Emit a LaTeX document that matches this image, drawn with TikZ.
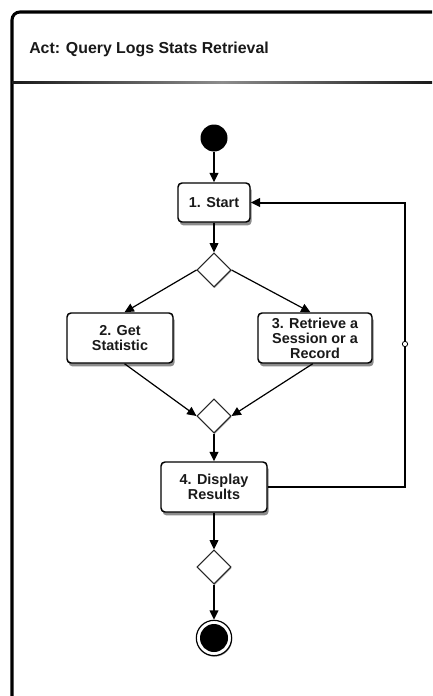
\documentclass[tikz,border=0pt]{standalone}
\usepackage{fontspec}
\setmainfont{Liberation Sans}
\usetikzlibrary{shapes.geometric,arrows.meta,shadows}

\tikzset{
  action/.style={draw=black, line width=1.1pt, rounded corners=3pt, fill=white,
    align=center, inner sep=2pt, text=black!90,
    font=\fontsize{10.8}{11.25}\selectfont\bfseries,
    drop shadow={shadow xshift=1.2pt, shadow yshift=-2.6pt, fill=black!45, opacity=1}},
  choice/.style={diamond, draw=black!85, line width=0.8pt, fill=white, inner sep=0pt,
    minimum width=25.5pt, minimum height=25.5pt,
    drop shadow={shadow xshift=0.4pt, shadow yshift=-0.9pt, fill=black!40, opacity=1}},
  startdot/.style={circle, fill=black, inner sep=0pt, minimum size=20.25pt},
  enddot/.style={circle, draw=black, line width=0.9pt, fill=white, inner sep=0pt,
    minimum size=26.5pt,
    drop shadow={shadow xshift=0.4pt, shadow yshift=-0.8pt, fill=black!40, opacity=1}},
  flow/.style={line width=1.1pt, -{Triangle[length=7pt,width=6.5pt]}},
  slant/.style={line width=0.9pt, -{Triangle[length=7pt,width=6.5pt]}},
  back/.style={line width=1.5pt, -{Triangle[length=7pt,width=6.5pt]}},
  knot/.style={circle, draw=black, line width=0.6pt, fill=white, inner sep=0pt, minimum size=4pt},
}

\begin{document}
\begin{tikzpicture}[x=0.75pt,y=-0.75pt]
  \useasboundingbox (0,0) rectangle (432,696);
  \clip (0,0) rectangle (432,696);
  \fill[white] (0,0) rectangle (432,696);

  % activity frame and its header
  \draw[line width=2.3pt, rounded corners=6pt] (12,720) -- (12,12) -- (460,12);
  \shade[left color=black!90, right color=black!45] (12,81) rectangle (222,83.2);
  \shade[left color=black!45, right color=black!90] (222,81) rectangle (432,83.2);
  \node[anchor=west, inner sep=0pt, text=black!90,
        font=\fontsize{11.9}{13}\selectfont\bfseries] (title) at (29,49)
        {Act: Query Logs Stats Retrieval};

  % activity nodes
  \node[startdot] (init) at (214,138) {};
  \node[action, minimum width=54pt, minimum height=29.25pt] (start) at (214,202.5) {1. Start};
  \node[choice] (dec1) at (214,270) {};
  \node[action, minimum width=79.5pt, minimum height=37.5pt] (getstat) at (120,338) {2. Get\\Statistic};
  \node[action, minimum width=85.5pt, minimum height=37.5pt] (retrieve) at (315,338) {3. Retrieve a\\Session or a\\Record};
  \node[choice] (merge) at (214,416) {};
  \node[action, minimum width=79.5pt, minimum height=37.5pt] (display) at (214,487) {4. Display\\Results};
  \node[choice] (dec2) at (214,567) {};
  \node[enddot] (final) at (214,638) {};
  \node[startdot, minimum size=21pt] (finalcore) at (final.center) {};

  % control flows
  \draw[flow] (init) -- (start);
  \draw[flow] (start) -- (dec1);
  \draw[slant] (dec1.west) -- (getstat.80);
  \draw[slant] (dec1.east) -- (retrieve.100);
  \draw[slant] (getstat.280) -- (merge.west);
  \draw[slant] (retrieve.265) -- (merge.east);
  \draw[flow] (merge) -- (display);
  \draw[flow] (display) -- (dec2);
  \draw[flow] (dec2) -- (final);

  % loop back to the start
  \coordinate (turn) at (405,344);
  \draw[back] (display.east) -| (turn) |- (start.east);
  \node[knot] (mk) at (turn) {};
\end{tikzpicture}
\end{document}
